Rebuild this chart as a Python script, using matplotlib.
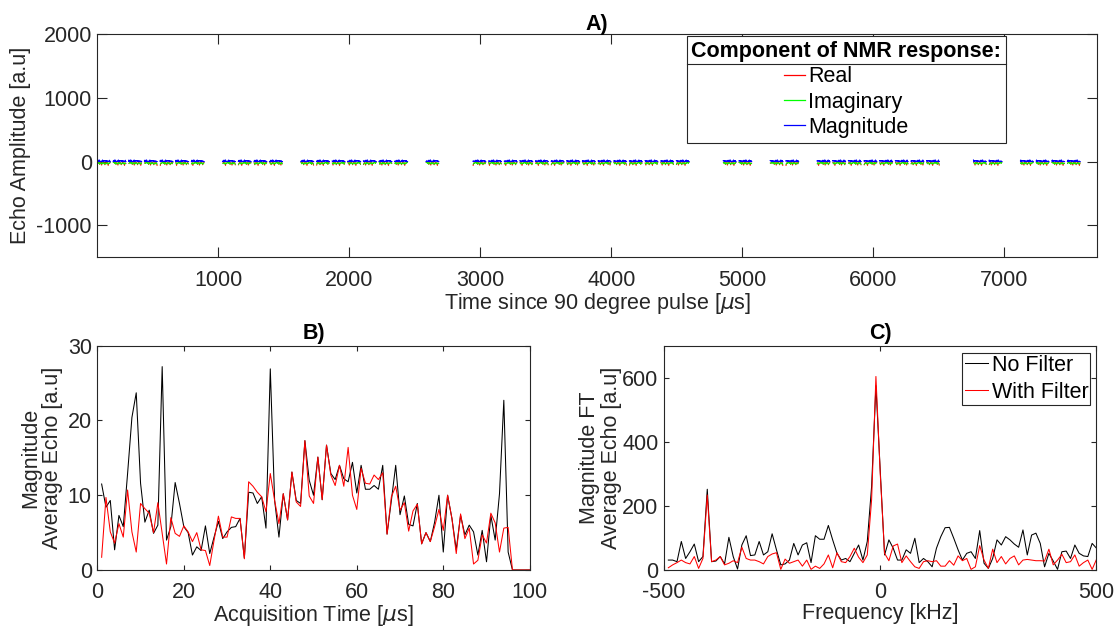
import numpy as np
import matplotlib.pyplot as plt
from matplotlib.lines import Line2D

plt.rcParams['font.family'] = ['Liberation Sans', 'DejaVu Sans']
plt.rcParams['axes.unicode_minus'] = False
FS = 15.5
DARK = '#262626'

# ---- Panel B: average echo (1 us samples)
acq_time = np.arange(1, 101)
avg_echo_nofilt = [11.5, 8.4, 9.3, 2.7, 7.3, 5.8, 12.9, 20.4, 23.7, 11.6,
                   6.4, 8.0, 4.9, 6.0, 27.2, 4.0, 5.8, 11.7, 8.9, 5.8,
                   5.0, 2.0, 3.1, 2.6, 5.9, 2.2, 4.4, 6.5, 4.2, 5.1,
                   5.7, 5.8, 6.9, 1.6, 10.4, 10.3, 8.9, 9.8, 5.6, 26.9,
                   9.3, 4.4, 10.2, 6.7, 13.1, 9.3, 8.9, 17.3, 12.0, 10.0,
                   15.1, 9.4, 16.7, 12.9, 12.1, 14.0, 12.2, 11.8, 14.4, 10.3,
                   14.0, 10.8, 10.8, 11.3, 10.8, 14.0, 4.8, 9.3, 14.0, 7.4,
                   9.9, 6.1, 5.9, 8.9, 3.5, 5.0, 3.8, 6.4, 10.0, 2.4,
                   10.0, 6.9, 2.7, 7.3, 4.7, 6.0, 5.1, 2.0, 5.3, 1.1,
                   7.3, 4.0, 10.2, 22.7, 2.4, 0, 0, 0, 0, 0]
avg_echo_filt = [1.7, 9.7, 5.1, 3.6, 6.2, 4.4, 10.7, 5.1, 2.4, 8.9,
                 8.2, 7.6, 5.0, 9.0, 4.9, 0.8, 7.0, 4.9, 4.5, 5.9,
                 5.1, 3.8, 5.0, 2.7, 2.6, 0.6, 4.0, 7.2, 4.4, 4.4,
                 7.1, 6.9, 6.9, 1.5, 11.8, 11.2, 10.4, 9.8, 7.8, 12.9,
                 9.3, 6.2, 10.2, 6.7, 13.1, 9.1, 8.5, 17.3, 9.9, 8.9,
                 15.1, 9.4, 16.7, 12.7, 11.3, 14.0, 11.2, 16.4, 10.0, 8.1,
                 13.6, 11.6, 11.5, 12.7, 12.1, 13.0, 4.8, 9.8, 11.2, 8.0,
                 9.0, 5.2, 7.9, 8.8, 3.5, 5.0, 3.8, 5.8, 8.1, 5.3,
                 10.0, 6.9, 2.2, 7.5, 4.2, 5.6, 0.8, 1.3, 4.7, 3.6,
                 7.6, 6.3, 2.4, 5.6, 5.7, 0, 0, 0, 0, 0]

# ---- Panel C: FT of average echo (10 kHz bins)
freq = np.arange(-490, 501, 10)
ft_nofilt = [31, 31, 26, 89, 36, 57, 81, 26, 42,
             252,
             26, 28, 42, 19, 102, 42, 3, 78, 107,
             45, 47, 89, 47, 57, 113, 63, 16, 19, 31,
             83, 47, 78, 85, 23, 107, 96, 96, 139, 94,
             52, 31, 36, 26, 52, 78, 31, 89, 260, 575,
             310,
             47, 94, 68, 31, 31, 63, 52, 99, 23, 36,
             26, 10, 68, 104, 132, 133, 99, 63, 31, 52,
             57, 36, 123, 21, 5, 36, 94, 78, 104, 94,
             81, 71, 125, 47, 109, 115, 83, 10, 52, 28,
             2, 57, 59, 36, 78, 52, 44, 42, 83, 68]
ft_filt = [7, 16, 23, 31, 23, 19, 42, 5, 36,
           234,
           26, 31, 42, 16, 21, 29, 23, 71, 36,
           31, 31, 26, 19, 42, 50, 54, 2, 34, 21,
           26, 31, 12, 31, 2, 12, 5, 19, 47, 7,
           54, 26, 23, 42, 68, 40, 23, 47, 219, 604,
           300,
           52, 29, 75, 81, 23, 44, 26, 10, 5, 26,
           29, 26, 29, 12, 12, 29, 15, 44, 29, 36,
           2, 10, 76, 31, 5, 65, 23, 42, 19, 36,
           44, 16, 31, 33, 31, 29, 29, 28, 65, 16,
           31, 49, 23, 26, 47, 12, 23, 31, 2, 33]

# ---- Panel A: echo train
echo_start = 76.0
echo_spacing = 119.4
echo_index = [0, 1, 2, 3, 4, 5, 6, 8, 9, 10, 11, 13, 14, 15, 16, 17, 18, 19, 21,
              24, 25, 26, 27, 28, 29, 30, 31, 32, 33, 34, 35, 36, 37, 40, 41, 43, 44,
              46, 47, 48, 49, 50, 51, 52, 53, 56, 57, 59, 60, 61, 62]
echo_shape_t = np.arange(3, 100, 5)
echo_real = [-10, -25, -5, -45, -15, -20, -55, -8, -30, -12,
             -18, -50, -22, -10, -35, -15, -60, -20, -28, -12]
echo_imag = [-15, -30, -10, -40, -20, -25, -38, -12, -35, -22,
             -18, -42, -28, -20, -33, -16, -40, -22, -30, -10]
comp_colors = ['r', (0, 1, 0), 'b']

t_re, y_re, t_im, y_im, t_mag, y_mag = [], [], [], [], [], []
for k in echo_index:
    t0 = echo_start + k * echo_spacing
    t_re += list(t0 + echo_shape_t) + [np.nan]
    y_re += list(np.roll(echo_real, k)) + [np.nan]
    t_im += list(t0 + echo_shape_t) + [np.nan]
    y_im += list(np.roll(echo_imag, k)) + [np.nan]
    t_mag += list(t0 + acq_time) + [np.nan]
    y_mag += list(np.roll(avg_echo_nofilt[:95], k)) + [0] * 5 + [np.nan]


def style(ax, ticklen):
    for s in ax.spines.values():
        s.set_color(DARK)
        s.set_linewidth(0.8)
    ax.tick_params(direction='in', top=True, right=True, length=ticklen,
                   width=0.8, color=DARK, labelcolor=DARK, labelsize=FS)
    ax.tick_params(axis='x', pad=9)
    ax.tick_params(axis='y', pad=4)


fig = plt.figure(figsize=(11.16, 6.29), dpi=100)

# A
axA = fig.add_axes([0.0872, 0.5909, 0.8955, 0.355])
lr, = axA.plot(t_re, y_re, color=comp_colors[0], lw=0.7, label='Real')
li, = axA.plot(t_im, y_im, color=comp_colors[1], lw=0.7, label='Imaginary')
lm, = axA.plot(t_mag, y_mag, color=comp_colors[2], lw=0.7, label='Magnitude')
axA.set_xlim(76, 7704)
axA.set_ylim(-1500, 2000)
axA.set_xticks([1000, 2000, 3000, 4000, 5000, 6000, 7000])
axA.set_yticks([-1000, 0, 1000, 2000])
style(axA, 7)
axA.set_xlabel('Time since 90 degree pulse [$\\mu$s]', fontsize=FS, color=DARK, labelpad=0)
axA.set_ylabel('Echo Amplitude [a.u]', fontsize=FS, color=DARK, labelpad=4)
axA.set_title('A)', fontsize=FS, fontweight='bold', pad=3)
legA = axA.legend(handles=[lr, li, lm], loc='upper right', bbox_to_anchor=(0.9091, 0.99),
                  borderaxespad=0, fontsize=FS, title='Component of NMR response:',
                  title_fontproperties={'weight': 'bold', 'size': FS},
                  alignment='center', fancybox=False, framealpha=1, edgecolor=DARK,
                  handlelength=1.0, handletextpad=0.15, labelspacing=0.2, borderpad=0.22)
legA.get_frame().set_linewidth(0.8)
for h, c in zip(legA.legend_handles, comp_colors):
    h.set_color(c)
    h.set_linewidth(0.9)

# B
axB = fig.add_axes([0.0872, 0.0938, 0.3875, 0.3566])
axB.plot(acq_time, avg_echo_nofilt, color='k', lw=0.75)
axB.plot(acq_time, avg_echo_filt, color='r', lw=0.75)
axB.set_xlim(0, 100)
axB.set_ylim(0, 30)
axB.set_xticks([0, 20, 40, 60, 80, 100])
axB.set_yticks([0, 10, 20, 30])
style(axB, 3.5)
axB.set_xlabel('Acquisition Time [$\\mu$s]', fontsize=FS, color=DARK, labelpad=0)
axB.set_ylabel('Magnitude\nAverage Echo [a.u]', fontsize=FS, color=DARK, labelpad=3,
               linespacing=1.1)
axB.set_title('B)', fontsize=FS, fontweight='bold', pad=5)

# C
axC = fig.add_axes([0.595, 0.0938, 0.3875, 0.3566])
axC.plot(freq, ft_nofilt, color='k', lw=0.75, label='No Filter')
axC.plot(freq, ft_filt, color='r', lw=0.75, label='With Filter')
axC.set_xlim(-500, 500)
axC.set_ylim(0, 700)
axC.set_xticks([-500, 0, 500])
axC.set_yticks([0, 200, 400, 600])
style(axC, 3.5)
axC.set_xlabel('Frequency [kHz]', fontsize=FS, color=DARK, labelpad=0)
axC.set_ylabel('Magnitude FT\nAverage Echo [a.u]', fontsize=FS, color=DARK, labelpad=0,
               linespacing=1.1)
axC.set_title('C)', fontsize=FS, fontweight='bold', pad=5)
legC = axC.legend(loc='upper right', bbox_to_anchor=(0.986, 0.969), borderaxespad=0,
                  fontsize=FS, fancybox=False, framealpha=1, edgecolor=DARK,
                  handlelength=1.1, handletextpad=0.15, labelspacing=0.28, borderpad=0.1)
legC.get_frame().set_linewidth(0.8)

# separator between legend title and entries (MATLAB style)
fig.canvas.draw()
r = fig.canvas.get_renderer()
W, H = fig.bbox.width, fig.bbox.height
lb = legA.get_window_extent(r)
tb = legA.get_title().get_window_extent(r)
ysep = tb.y0 - 0.2 * FS * 100 / 72 / 2
fig.add_artist(Line2D([lb.x0 / W, lb.x1 / W], [ysep / H, ysep / H],
                      transform=fig.transFigure, color=DARK, lw=0.8))

fig.savefig('out.png', dpi=100)
